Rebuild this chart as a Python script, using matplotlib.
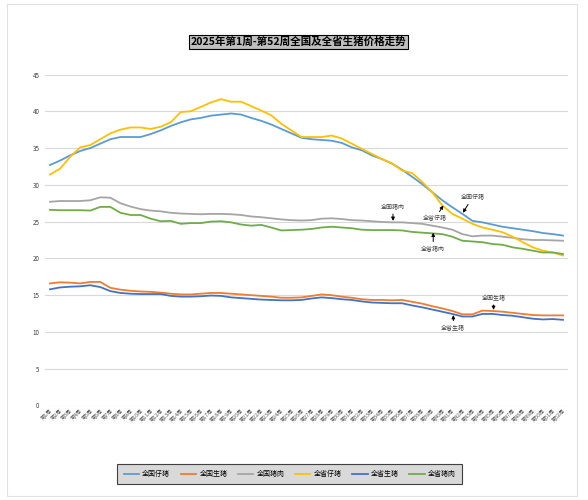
import matplotlib
matplotlib.use("Agg")
import matplotlib.pyplot as plt
from matplotlib.patches import Rectangle

plt.rcParams['font.family'] = ['Noto Sans CJK SC', 'DejaVu Sans']

weeks = list(range(1, 53))
week_labels = [f"第{w}周" for w in weeks]

national_piglet = [32.7, 33.3, 34.0, 34.6, 35.0, 35.6, 36.2, 36.5, 36.5, 36.5,
                   36.9, 37.4, 38.0, 38.5, 38.9, 39.1, 39.4, 39.55, 39.7, 39.55,
                   39.1, 38.7, 38.2, 37.6, 37.0, 36.4, 36.2, 36.1, 36.0, 35.7,
                   35.1, 34.7, 34.0, 33.5, 32.9, 32.05, 31.1, 30.1, 29.0, 27.9,
                   26.95, 26.05, 25.1, 24.9, 24.6, 24.3, 24.1, 23.9, 23.7, 23.45,
                   23.3, 23.1]
national_hog = [16.6, 16.75, 16.7, 16.6, 16.8, 16.8, 16.0, 15.75, 15.6, 15.5,
                15.45, 15.35, 15.2, 15.1, 15.1, 15.2, 15.3, 15.3, 15.2, 15.1,
                15.0, 14.9, 14.8, 14.65, 14.65, 14.7, 14.9, 15.1, 15.0, 14.8,
                14.65, 14.45, 14.35, 14.35, 14.3, 14.35, 14.1, 13.85, 13.5, 13.2,
                12.85, 12.4, 12.4, 12.9, 12.85, 12.75, 12.6, 12.45, 12.3, 12.25,
                12.25, 12.25]
national_pork = [27.7, 27.8, 27.8, 27.8, 27.9, 28.3, 28.25, 27.5, 27.05, 26.7,
                 26.5, 26.4, 26.2, 26.1, 26.05, 26.0, 26.05, 26.05, 26.0, 25.9,
                 25.7, 25.6, 25.45, 25.3, 25.2, 25.15, 25.2, 25.4, 25.45, 25.35,
                 25.2, 25.15, 25.05, 24.95, 24.9, 24.9, 24.8, 24.7, 24.45, 24.2,
                 23.9, 23.3, 23.0, 23.1, 23.1, 22.95, 22.8, 22.6, 22.5, 22.5,
                 22.45, 22.4]
province_piglet = [31.4, 32.2, 33.8, 35.1, 35.4, 36.2, 37.0, 37.5, 37.8, 37.8,
                   37.6, 37.9, 38.5, 39.9, 40.0, 40.6, 41.2, 41.65, 41.3, 41.3,
                   40.7, 40.1, 39.45, 38.3, 37.4, 36.5, 36.5, 36.5, 36.7, 36.3,
                   35.6, 34.9, 34.2, 33.5, 32.9, 31.95, 31.6, 30.4, 29.0, 27.2,
                   26.05, 25.4, 24.7, 24.2, 23.9, 23.55, 22.95, 22.2, 21.5, 21.05,
                   20.8, 20.4]
province_hog = [15.8, 16.05, 16.15, 16.2, 16.35, 16.1, 15.55, 15.3, 15.2, 15.15,
                15.15, 15.15, 14.9, 14.8, 14.8, 14.85, 14.95, 14.9, 14.7, 14.6,
                14.5, 14.4, 14.35, 14.3, 14.3, 14.35, 14.55, 14.7, 14.6, 14.45,
                14.35, 14.15, 14.0, 13.95, 13.9, 13.9, 13.6, 13.35, 13.05, 12.75,
                12.45, 12.1, 12.1, 12.45, 12.45, 12.3, 12.2, 12.0, 11.8, 11.7,
                11.75, 11.65]
province_pork = [26.6, 26.55, 26.55, 26.55, 26.5, 27.0, 27.0, 26.2, 25.9, 25.9,
                 25.4, 25.05, 25.1, 24.7, 24.8, 24.8, 25.0, 25.05, 24.9, 24.6,
                 24.45, 24.55, 24.2, 23.8, 23.85, 23.9, 24.0, 24.2, 24.3, 24.2,
                 24.1, 23.9, 23.85, 23.85, 23.85, 23.8, 23.6, 23.5, 23.4, 23.3,
                 22.95, 22.4, 22.3, 22.2, 21.95, 21.85, 21.5, 21.3, 21.05, 20.8,
                 20.8, 20.6]

series_names = ["全国仔猪", "全国生猪", "全国猪肉", "全省仔猪", "全省生猪", "全省猪肉"]
series_values = [national_piglet, national_hog, national_pork,
                 province_piglet, province_hog, province_pork]
colors = ["#5B9BD5", "#ED7D31", "#A5A5A5", "#FFC000", "#4472C4", "#70AD47"]

# callouts: label, arrow tip (week, value), text position (week, value)
callouts = [
    ("全国猪肉", (35.1, 25.1), (35.1, 27.0)),
    ("全省仔猪", (40.1, 27.2), (39.3, 25.4)),
    ("全国仔猪", (42.05, 26.2), (43.0, 28.3)),
    ("全省猪肉", (39.1, 23.5), (39.1, 21.3)),
    ("全国生猪", (45.1, 13.0), (45.1, 14.65)),
    ("全省生猪", (41.1, 12.3), (41.1, 10.55)),
]

fig = plt.figure(figsize=(5.88, 5.00), dpi=100)
ax = fig.add_axes([0.0765, 0.189, 0.8895, 0.662])

for name, vals, c in zip(series_names, series_values, colors):
    ax.plot(weeks, vals, color=c, lw=1.3, label=name)

ax.set_xlim(0.5, 52.5)
ax.set_ylim(0, 45)
ax.set_yticks(range(0, 46, 5))
ax.grid(axis='y', color='#d9d9d9', lw=0.8)
ax.set_axisbelow(True)
for s in ax.spines.values():
    s.set_visible(False)
ax.tick_params(length=0)
ax.tick_params(axis='y', labelsize=4.5, labelcolor='#404040', pad=4)
ax.set_xticks(weeks)
ax.set_xticklabels(week_labels, rotation=45, ha='right', rotation_mode='anchor',
                   fontsize=3.8, color='#595959')
ax.tick_params(axis='x', pad=2)

for label, tip, txt in callouts:
    ax.annotate(label, xy=tip, xytext=txt, ha='center', va='center',
                fontsize=4.3, color='#404040',
                arrowprops=dict(arrowstyle='-|>', color='black', lw=0.7,
                                mutation_scale=5, shrinkA=1, shrinkB=0))

fig.text(0.507, 0.916, "2025年第1周-第52周全国及全省生猪价格走势",
         ha='center', va='center', fontsize=7.6, fontweight='bold', color='black',
         bbox=dict(boxstyle='square,pad=0.15', fc='#bfbfbf', ec='black', lw=0.8))

leg = fig.legend(loc='center', bbox_to_anchor=(0.493, 0.052), ncol=6,
                 fontsize=5, frameon=True, handlelength=2.2, columnspacing=1.5,
                 handletextpad=0.5, borderpad=0.6)
leg.get_frame().set_facecolor('#d9d9d9')
leg.get_frame().set_edgecolor('#404040')
leg.get_frame().set_linewidth(0.8)
leg.get_frame().set_boxstyle('square')
leg.get_frame().set_alpha(1)

fig.patches.append(Rectangle((0.012, 0.008), 0.97, 0.984, transform=fig.transFigure,
                             fill=False, ec='#e0e0e0', lw=0.8))

fig.savefig("out.png", dpi=100)
